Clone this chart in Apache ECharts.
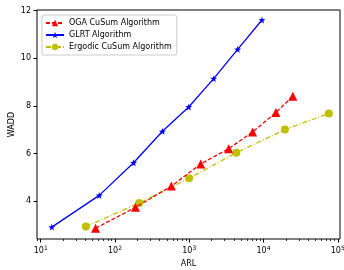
<!DOCTYPE html>
<html>
<head>
<meta charset="utf-8">
<script src="https://cdn.jsdelivr.net/npm/echarts@6/dist/echarts.min.js"></script>
<style>
  html, body { margin: 0; padding: 0; background: #fff; }
  #chart { width: 344px; height: 270px; }
</style>
</head>
<body>
<div id="chart"></div>
<script>
// values (ARL on a log scale, WADD linear)
const ogaArl = [54.8, 189, 575, 1429, 3396, 7130, 14700, 24800];
const ogaWadd = [2.87, 3.75, 4.64, 5.57, 6.21, 6.91, 7.73, 8.41];
const glrtArl = [14.1, 61.4, 178, 436, 984, 2133, 4487, 9530];
const glrtWadd = [2.92, 4.25, 5.62, 6.94, 7.96, 9.15, 10.38, 11.61];
const ergArl = [40.6, 212, 995, 4305, 19400, 75700];
const ergWadd = [2.94, 3.93, 4.97, 6.04, 7.01, 7.69];
const xDecades = [1, 2, 3, 4, 5];
const yTicks = [4, 6, 8, 10, 12];

const font = 'DejaVu Sans';
const lg = v => Math.log10(v);
const pairs = (xs, ys) => xs.map((x, i) => [lg(x), ys[i]]);

// minor ticks at 2..9 x 10^k
const minorTicks = [];
for (let k = 0; k <= 5; k++) {
  for (let m = 2; m <= 9; m++) {
    const v = lg(m * Math.pow(10, k));
    if (v > 0.95 && v < 5.03) minorTicks.push(v);
  }
}

const chart = echarts.init(document.getElementById('chart'), null, { renderer: 'canvas' });

const xMin = 0.95, xMax = 5.03;

chart.setOption({
  animation: false,
  backgroundColor: '#fff',
  textStyle: { fontFamily: font },
  grid: {
    left: 37, right: 4, top: 10, bottom: 31,
    outerBoundsMode: 'none', containLabel: false,
    show: true, borderColor: '#000', borderWidth: 1, backgroundColor: 'transparent'
  },
  xAxis: [
    {
      type: 'value', min: xMin, max: xMax,
      name: 'ARL', nameLocation: 'middle', nameGap: 21, nameMoveOverlap: false,
      nameTextStyle: { fontSize: 8, color: '#000', fontFamily: font },
      axisLine: { show: false },
      splitLine: { show: false },
      axisTick: { show: true, inside: false, length: 3.5, lineStyle: { color: '#000' }, customValues: xDecades },
      axisLabel: {
        margin: 6, color: '#000', fontFamily: font,
        customValues: xDecades,
        formatter: v => '{b|10}{s|' + Math.round(v) + '}',
        rich: {
          b: { fontSize: 8, fontFamily: font, color: '#000' },
          s: { fontSize: 6, fontFamily: font, color: '#000', verticalAlign: 'top', padding: [0, 0, 5, 0] }
        }
      }
    },
    {
      type: 'value', min: xMin, max: xMax, position: 'bottom',
      axisLine: { show: false },
      splitLine: { show: false },
      axisLabel: { show: false },
      axisTick: { show: true, inside: false, length: 2, lineStyle: { color: '#000', width: 0.8 }, customValues: minorTicks }
    }
  ],
  yAxis: {
    type: 'value', min: 2.42, max: 12.03,
    name: 'WADD', nameLocation: 'middle', nameGap: 21, nameRotate: 90, nameMoveOverlap: false,
    nameTextStyle: { fontSize: 8, color: '#000', fontFamily: font },
    axisLine: { show: false },
    splitLine: { show: false },
    axisTick: { show: true, inside: false, length: 3.5, lineStyle: { color: '#000' }, customValues: yTicks },
    axisLabel: { margin: 6, fontSize: 8, color: '#000', fontFamily: font, customValues: yTicks }
  },
  legend: {
    orient: 'vertical', left: 42, top: 15,
    padding: [4, 5, 4, 3], itemGap: 4,
    itemWidth: 18, itemHeight: 8,
    backgroundColor: '#fff', borderColor: '#ccc', borderWidth: 1, borderRadius: 2,
    textStyle: { fontSize: 8, color: '#000', fontFamily: font },
    data: ['OGA CuSum Algorithm', 'GLRT Algorithm', 'Ergodic CuSum Algorithm']
  },
  series: [
    {
      name: 'OGA CuSum Algorithm', type: 'line',
      data: pairs(ogaArl, ogaWadd),
      symbol: 'triangle', symbolSize: 9,
      itemStyle: { color: '#ff0000' },
      lineStyle: { color: '#ff0000', width: 1.3, type: [4, 2] },
      z: 3
    },
    {
      name: 'GLRT Algorithm', type: 'line',
      data: pairs(glrtArl, glrtWadd),
      symbol: 'path://M0,-10L2.35,-3.24L9.51,-3.09L3.8,1.24L5.88,8.09L0,4L-5.88,8.09L-3.8,1.24L-9.51,-3.09L-2.35,-3.24Z',
      symbolSize: 7,
      itemStyle: { color: '#0000ff' },
      lineStyle: { color: '#0000ff', width: 1.3 },
      z: 3
    },
    {
      name: 'Ergodic CuSum Algorithm', type: 'line',
      data: pairs(ergArl, ergWadd),
      symbol: 'circle', symbolSize: 8,
      itemStyle: { color: '#bfbf00' },
      lineStyle: { color: '#bfbf00', width: 1.3, type: [5, 2, 1, 2] },
      z: 2
    }
  ]
});
</script>
</body>
</html>
